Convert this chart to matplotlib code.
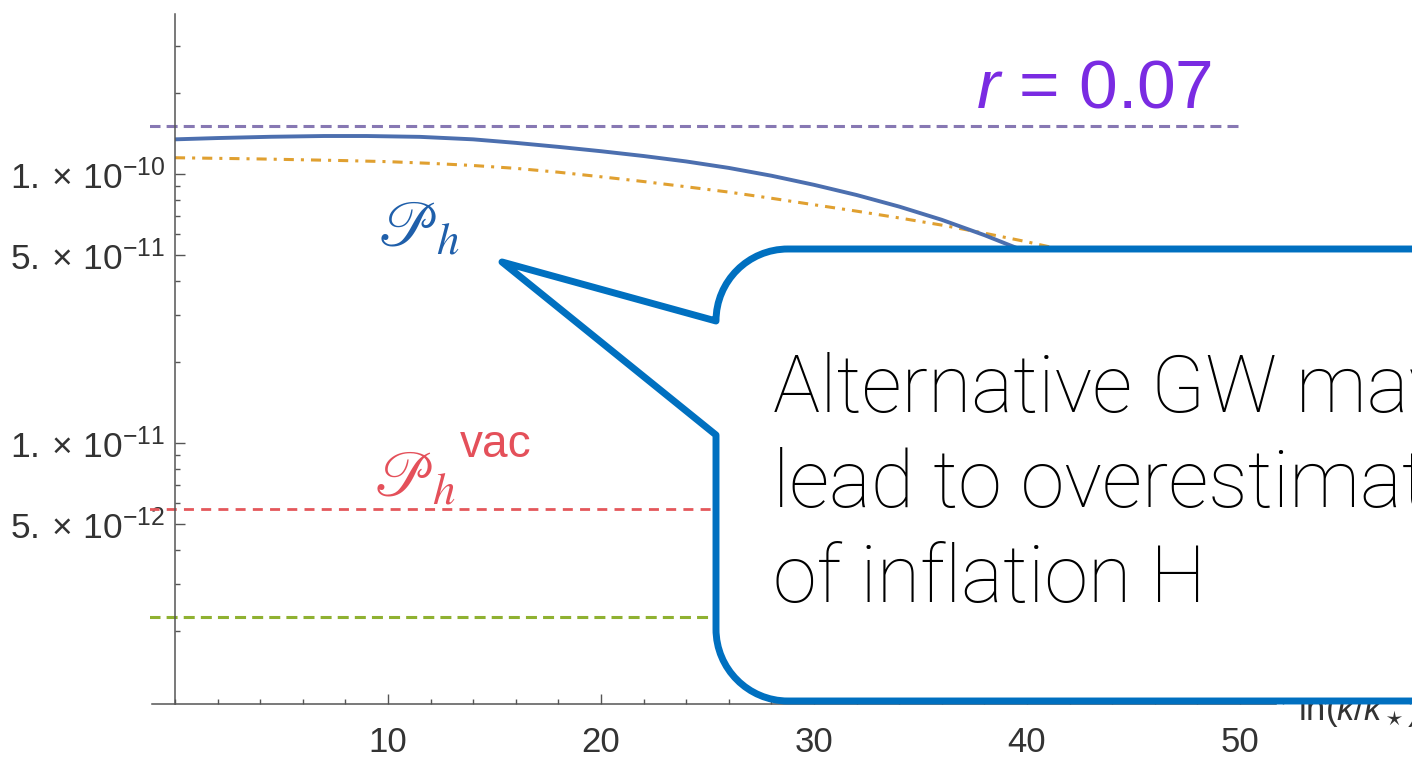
import numpy as np
import matplotlib
matplotlib.use("Agg")
import matplotlib.pyplot as plt
from matplotlib.path import Path
from matplotlib.patches import PathPatch
from matplotlib.ticker import FixedLocator, FixedFormatter, LogLocator, MultipleLocator, NullFormatter

# curves (x = ln(k/k*), y in units of 1e-10)
k_blue = [0, 2, 4.5, 7, 9, 11.5, 14, 16, 18, 20, 22, 24, 26, 28, 30, 32, 34, 36, 38, 40, 42]
ph_blue = [1.346, 1.361, 1.376, 1.385, 1.385, 1.375, 1.346, 1.306, 1.262, 1.216, 1.167,
           1.114, 1.054, 0.986, 0.912, 0.836, 0.757, 0.676, 0.593, 0.513, 0.437]
k_orange = [0, 4, 8, 10, 12, 14, 16, 18, 20, 22, 24, 26, 28, 30, 32, 34, 36, 38, 40, 42, 44]
ph_orange = [1.150, 1.138, 1.122, 1.112, 1.096, 1.076, 1.050, 1.016, 0.977, 0.938, 0.897,
             0.857, 0.813, 0.769, 0.728, 0.687, 0.646, 0.603, 0.560, 0.516, 0.477]

# constant levels
r007_level = 1.51e-10
vac_level = 5.7e-12
green_level = 2.26e-12
hline_span = [-1.2, 50]

ytick_vals = [1e-10, 5e-11, 1e-11, 5e-12]
ytick_labels = [r"$1.\times\,10^{-10}$", r"$5.\times\,10^{-11}$",
                r"$1.\times\,10^{-11}$", r"$5.\times\,10^{-12}$"]
xtick_vals = [10, 20, 30, 40, 50]

callout_lines = ["Alternative GW may", "lead to overestimate", "of inflation H"]

plt.rcParams["font.family"] = ["Liberation Sans", "DejaVu Sans"]
plt.rcParams["mathtext.fontset"] = "custom"
plt.rcParams["mathtext.rm"] = "Liberation Sans"
plt.rcParams["mathtext.it"] = "Liberation Sans:italic"
plt.rcParams["mathtext.sf"] = "Liberation Sans"

W, H = 1412, 757
fig = plt.figure(figsize=(W / 100, H / 100), dpi=100)

# main axes placed by pixel box: x 150..1412, y 14..704
ax = fig.add_axes([150 / W, (H - 704) / H, (W - 150) / W, (704 - 14) / H])
ax.set_yscale("log")
ax.set_xlim(-1.174, 58.08)
ax.set_ylim(10 ** -11.970, 10 ** -9.405)

gray = "#555555"
ax.spines["top"].set_visible(False)
ax.spines["right"].set_visible(False)
ax.spines["left"].set_position(("data", 0))
ax.spines["left"].set_color(gray)
ax.spines["bottom"].set_color(gray)
ax.spines["left"].set_linewidth(1.1)
ax.spines["bottom"].set_linewidth(1.1)
ax.spines["bottom"].set_bounds(-1.1, 51.7)

ax.yaxis.set_major_locator(FixedLocator(ytick_vals))
ax.yaxis.set_major_formatter(FixedFormatter(ytick_labels))
ax.yaxis.set_minor_locator(LogLocator(base=10, subs=np.arange(1, 10)))
ax.yaxis.set_minor_formatter(NullFormatter())
ax.xaxis.set_major_locator(FixedLocator(xtick_vals))
ax.xaxis.set_minor_locator(MultipleLocator(2))
ax.tick_params(axis="both", which="both", direction="in", color=gray, width=1)
ax.tick_params(axis="both", which="major", length=7)
ax.tick_params(axis="both", which="minor", length=3.5)
ax.tick_params(axis="y", which="major", labelsize=25.5, pad=7, labelcolor="#333333")
ax.tick_params(axis="x", which="major", labelsize=25, pad=16, labelcolor="#333333")
ax.set_facecolor("none")

ax.hlines(r007_level, *hline_span, colors="#8778B3", linewidth=2.2,
          linestyles=(0, (3.6, 2.0)))
ax.hlines(vac_level, *hline_span, colors="#E4575B", linewidth=2.0,
          linestyles=(0, (3.6, 2.6)))
ax.hlines(green_level, *hline_span, colors="#8FB131", linewidth=2.2,
          linestyles=(0, (3.6, 2.0)))
ax.plot(k_orange, np.array(ph_orange) * 1e-10, color="#E0A030", linewidth=2.2,
        linestyle=(0, (3.3, 2.3, 1.0, 2.3)))
ax.plot(k_blue, np.array(ph_blue) * 1e-10, color="#4C6FAF", linewidth=2.8,
        solid_capstyle="butt")

# overlay in pixel coordinates for annotations and the callout
ov = fig.add_axes([0, 0, 1, 1])
ov.set_xlim(0, W)
ov.set_ylim(H, 0)
ov.axis("off")

ax.text(1298, 720, r"ln($k$/$k_\star$)", transform=ov.transData, fontsize=25,
        color="#333333", va="baseline", clip_on=False)

ov.text(976, 108, r"$r$ = 0.07", fontsize=50, color="#7A2BE2", va="baseline")
ov.text(378, 246, r"$\mathscr{P}_h$", fontsize=46, color="#1F5FAA", va="baseline",
        math_fontfamily="stix")
ov.text(374, 496, r"$\mathscr{P}_h$", fontsize=46, color="#E4505A", va="baseline",
        math_fontfamily="stix")
ov.text(460, 457, "vac", fontsize=33, color="#E4505A", va="baseline")

# callout bubble with pointer
left, top, right, bottom, rad = 716, 249, 1500, 701, 72
tip = (502, 262)
kk = 0.5523 * rad
verts = [tip, (left, top + rad),
         (left, top + rad - kk), (left + rad - kk, top), (left + rad, top),
         (right, top), (right, bottom), (left + rad, bottom),
         (left + rad - kk, bottom), (left, bottom - rad + kk), (left, bottom - rad),
         (left, 435), tip]
codes = [Path.MOVETO, Path.LINETO,
         Path.CURVE4, Path.CURVE4, Path.CURVE4,
         Path.LINETO, Path.LINETO, Path.LINETO,
         Path.CURVE4, Path.CURVE4, Path.CURVE4,
         Path.LINETO, Path.CLOSEPOLY]
bubble = PathPatch(Path(verts, codes), facecolor="white", edgecolor="#0070C0",
                   linewidth=5, joinstyle="round")
ov.add_patch(bubble)

for i, line in enumerate(callout_lines):
    ov.text(773, 412 + 95 * i, line, fontsize=57, family=["Roboto", "DejaVu Sans"],
            fontweight="light", color="black", va="baseline", clip_on=False)

fig.savefig("out.png", dpi=100)
